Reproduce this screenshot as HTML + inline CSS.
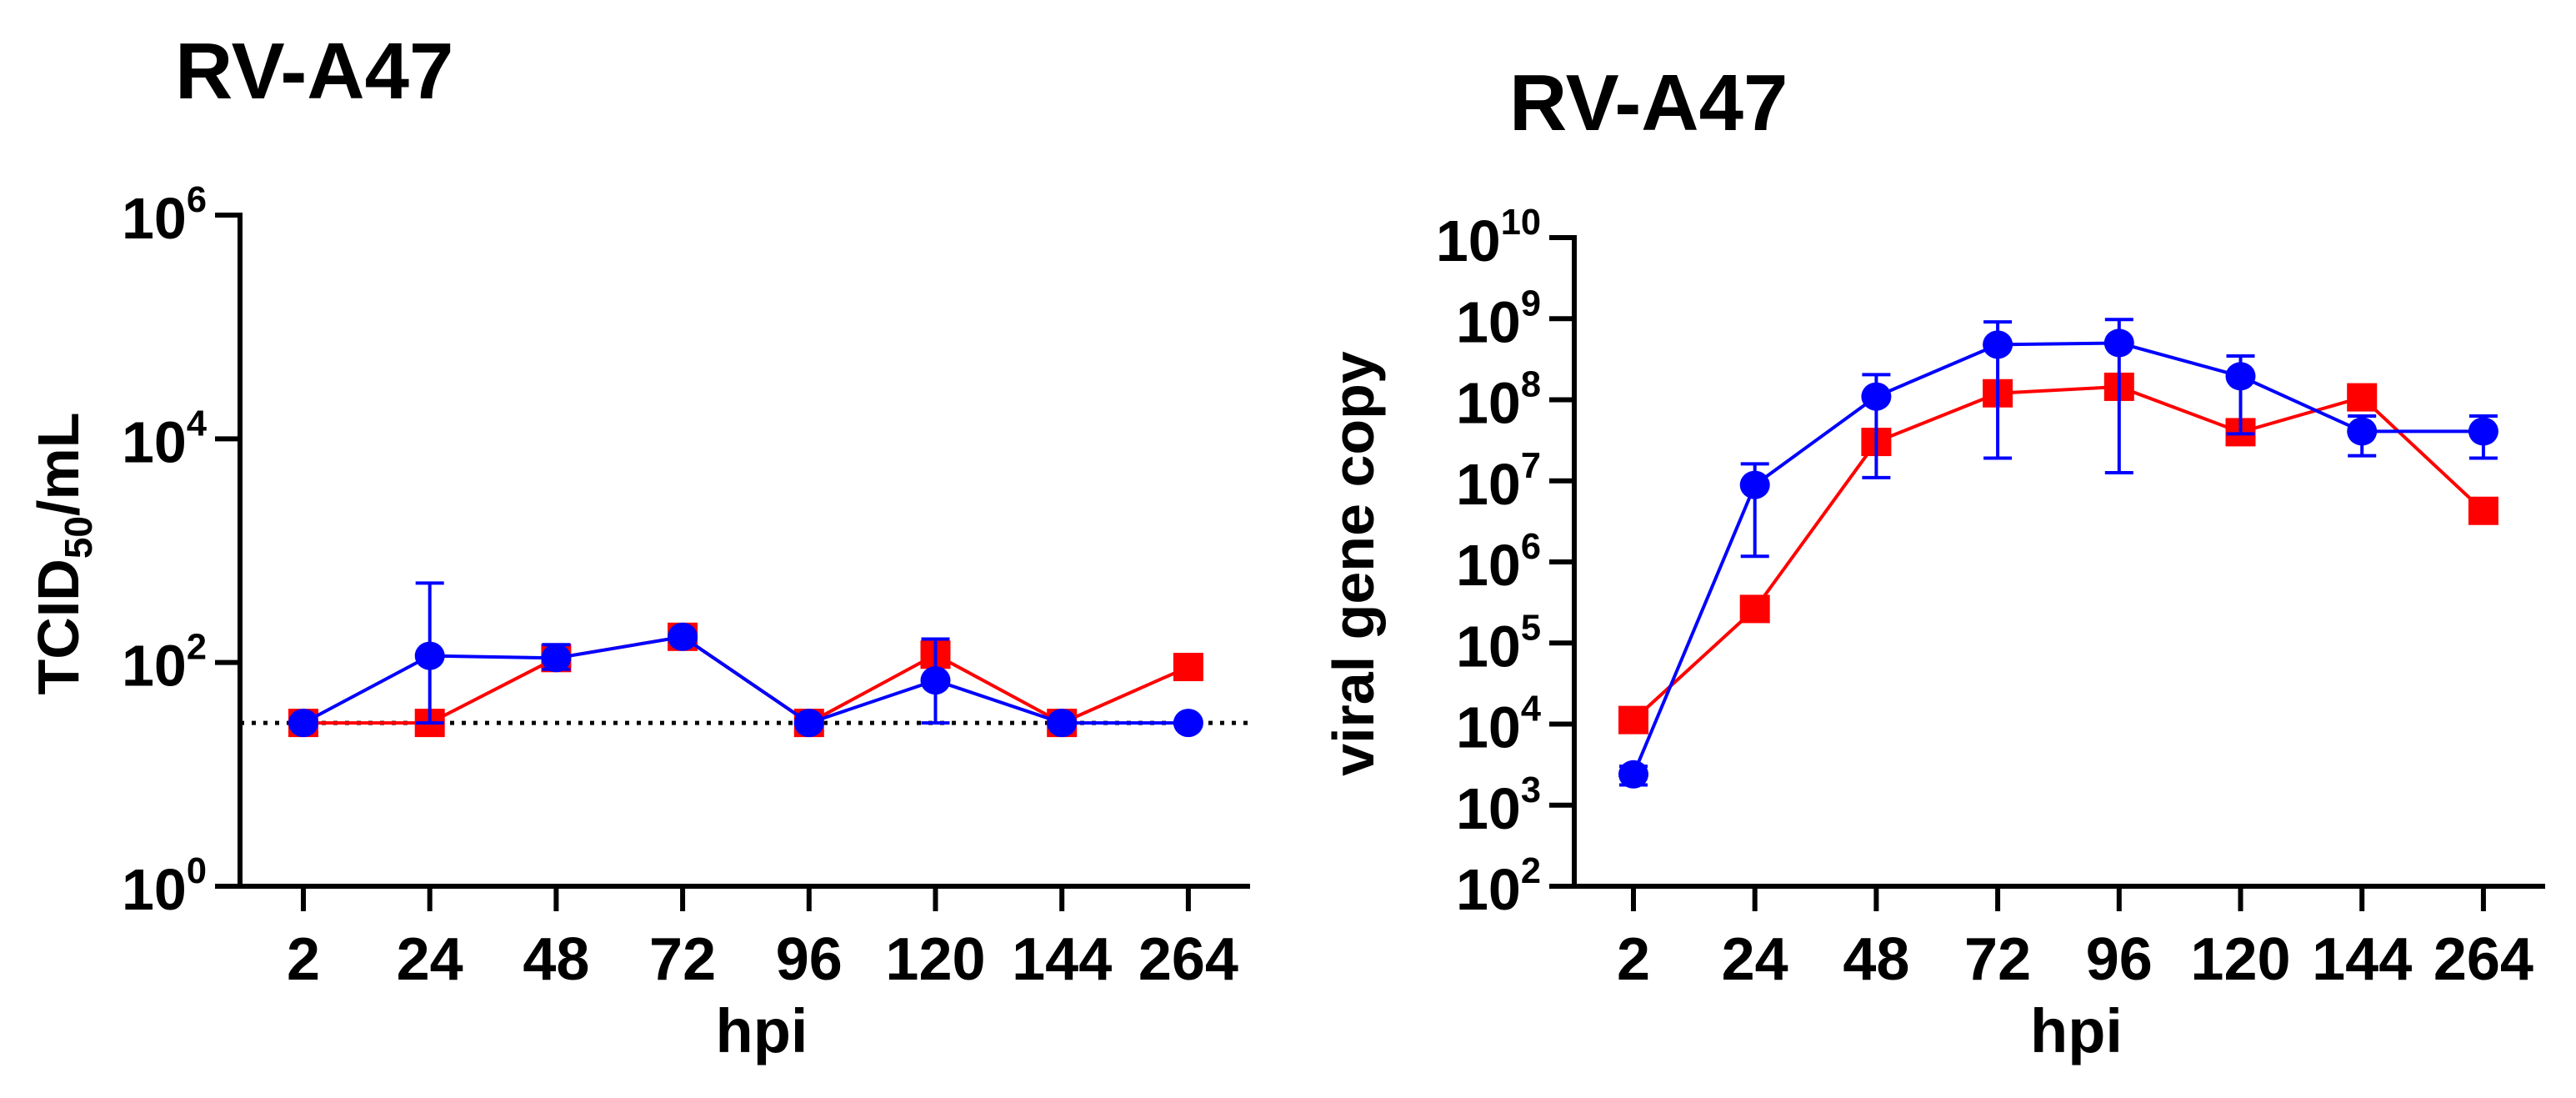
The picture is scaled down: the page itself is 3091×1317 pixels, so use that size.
<!DOCTYPE html>
<html><head><meta charset="utf-8"><style>
html,body{margin:0;padding:0;background:#fff;}
svg{display:block;font-family:"Liberation Sans",Arial,sans-serif;font-weight:bold;}
</style></head><body>
<svg id="c" width="3091" height="1317" viewBox="0 0 3091 1317" xmlns="http://www.w3.org/2000/svg"></svg>
<script>
const categories = ["2","24","48","72","96","120","144","264"];
// Left panel: TCID50/mL (log10 values)
const leftRed = [1.46,1.46,2.04,2.23,1.46,2.07,1.46,1.96];
const leftBlue = [1.46,2.06,2.04,2.23,1.46,1.84,1.46,1.46];
const leftBlueUpper = [1.46,2.71,2.16,2.26,1.46,2.21,1.46,1.46];
const leftBlueLower = [1.46,1.46,1.94,2.20,1.46,1.46,1.46,1.46];
const leftLimit = 1.46;
const leftTicks = [0,2,4,6];
// Right panel: viral gene copy (log10 values)
const rightRed = [4.05,5.42,7.48,8.08,8.16,7.6,8.03,6.63];
const rightBlue = [3.38,6.95,8.04,8.68,8.70,8.29,7.61,7.61];
const rightBlueUpper = [3.48,7.21,8.31,8.96,8.99,8.54,7.80,7.80];
const rightBlueLower = [3.25,6.07,7.04,7.28,7.10,7.58,7.31,7.28];
const rightTicks = [2,3,4,5,6,7,8,9,10];

const NS="http://www.w3.org/2000/svg";
const svg=document.getElementById('c');
function mk(tag,attrs,parent){const e=document.createElementNS(NS,tag);for(const k in attrs)e.setAttribute(k,attrs[k]);(parent||svg).appendChild(e);return e;}

function panel(p){
  const g=mk('g',{});
  
  
  const y=v=>p.y0-(v-p.ymin)/(p.ymax-p.ymin)*(p.y0-p.y1);
  const x=i=>p.xs+i*p.dx;
  const t=mk('text',{x:p.tx,y:p.ty,'font-size':96,fill:'#000'},g);t.textContent='RV-A47';
  
  const ya=mk('line',{x1:p.ax,y1:y(p.ymax)-3,x2:p.ax,y2:p.y0+3,stroke:'#000','stroke-width':6},g);
  
  const xa=mk('line',{x1:p.ax-3,y1:p.y0,x2:p.xend,y2:p.y0,stroke:'#000','stroke-width':6},g);
  
  p.ticks.forEach(v=>{
    mk('line',{x1:p.ax-30,y1:y(v),x2:p.ax,y2:y(v),stroke:'#000','stroke-width':6},g);
    const tl=mk('text',{x:p.ax-40,y:y(v)+28,'font-size':p.tfs,'text-anchor':'end',fill:'#000'},g);
    
    const a=mk('tspan',{},tl);a.textContent='10';
    const b=mk('tspan',{dy:-32,'font-size':p.tfs*0.62},tl);b.textContent=String(v);
  });
  categories.forEach((c,i)=>{
    mk('line',{x1:x(i),y1:p.y0,x2:x(i),y2:p.y0+30,stroke:'#000','stroke-width':6},g);
    const tl=mk('text',{x:x(i),y:p.y0+112,'font-size':72,'text-anchor':'middle',fill:'#000'},g);
    tl.textContent=c;
    
  });
  const xt=mk('text',{x:(p.ax+p.xend)/2+20,y:1262,'font-size':74,'text-anchor':'middle',fill:'#000'},g);
  xt.textContent='hpi';
  const yt=mk('text',{x:0,y:0,'font-size':70,'text-anchor':'middle',fill:'#000',transform:`translate(${p.ylx},${p.yly}) rotate(-90)`},g);
  
  if(p.tcid){const a=mk('tspan',{},yt);a.textContent='TCID';const b=mk('tspan',{dy:16,'font-size':46},yt);b.textContent='50';const c=mk('tspan',{dy:-16},yt);c.textContent='/mL';}
  else yt.textContent='viral gene copy';
  if(p.limit!=null){const d=mk('line',{x1:p.ax,y1:y(p.limit),x2:p.xend,y2:y(p.limit),stroke:'#000','stroke-width':5,'stroke-dasharray':'5,9'},g);
    }
  const rp=p.red.map((v,i)=>x(i)+','+y(v)).join(' ');
  const rl=mk('polyline',{points:rp,fill:'none',stroke:'#ff0000','stroke-width':4},g);
  
  p.red.forEach((v,i)=>{const r=mk('rect',{x:x(i)-18,y:y(v)-17,width:36,height:34,fill:'#ff0000'},g);
    });
  p.blue.forEach((v,i)=>{
    const u=y(p.bu[i]),l=y(p.bl[i]);
    if(Math.abs(u-l)>2){
      mk('line',{x1:x(i),y1:u,x2:x(i),y2:l,stroke:'#0000ff','stroke-width':4},g);
      mk('line',{x1:x(i)-17,y1:u,x2:x(i)+17,y2:u,stroke:'#0000ff','stroke-width':4},g);
      mk('line',{x1:x(i)-17,y1:l,x2:x(i)+17,y2:l,stroke:'#0000ff','stroke-width':4},g);
    }
  });
  const bp=p.blue.map((v,i)=>x(i)+','+y(v)).join(' ');
  const bl=mk('polyline',{points:bp,fill:'none',stroke:'#0000ff','stroke-width':4},g);
  
  p.blue.forEach((v,i)=>{const c=mk('ellipse',{cx:x(i),cy:y(v),rx:18,ry:17,fill:'#0000ff'},g);
    });
}
panel({name:'left-chart-tcid50',ax:288,y0:1063,y1:258,ymin:0,ymax:6,xs:364,dx:151.7,xend:1500,
  ticks:leftTicks,tfs:70,tx:210,ty:118,ylx:94,yly:664,tcid:true,limit:leftLimit,
  red:leftRed,blue:leftBlue,bu:leftBlueUpper,bl:leftBlueLower});
panel({name:'right-chart-gene-copy',ax:1889,y0:1063,y1:285,ymin:2,ymax:10,xs:1960,dx:145.7,xend:3054,
  ticks:rightTicks,tfs:70,tx:1811,ty:156,ylx:1648,yly:676,tcid:false,limit:null,
  red:rightRed,blue:rightBlue,bu:rightBlueUpper,bl:rightBlueLower});
</script>
</body></html>
